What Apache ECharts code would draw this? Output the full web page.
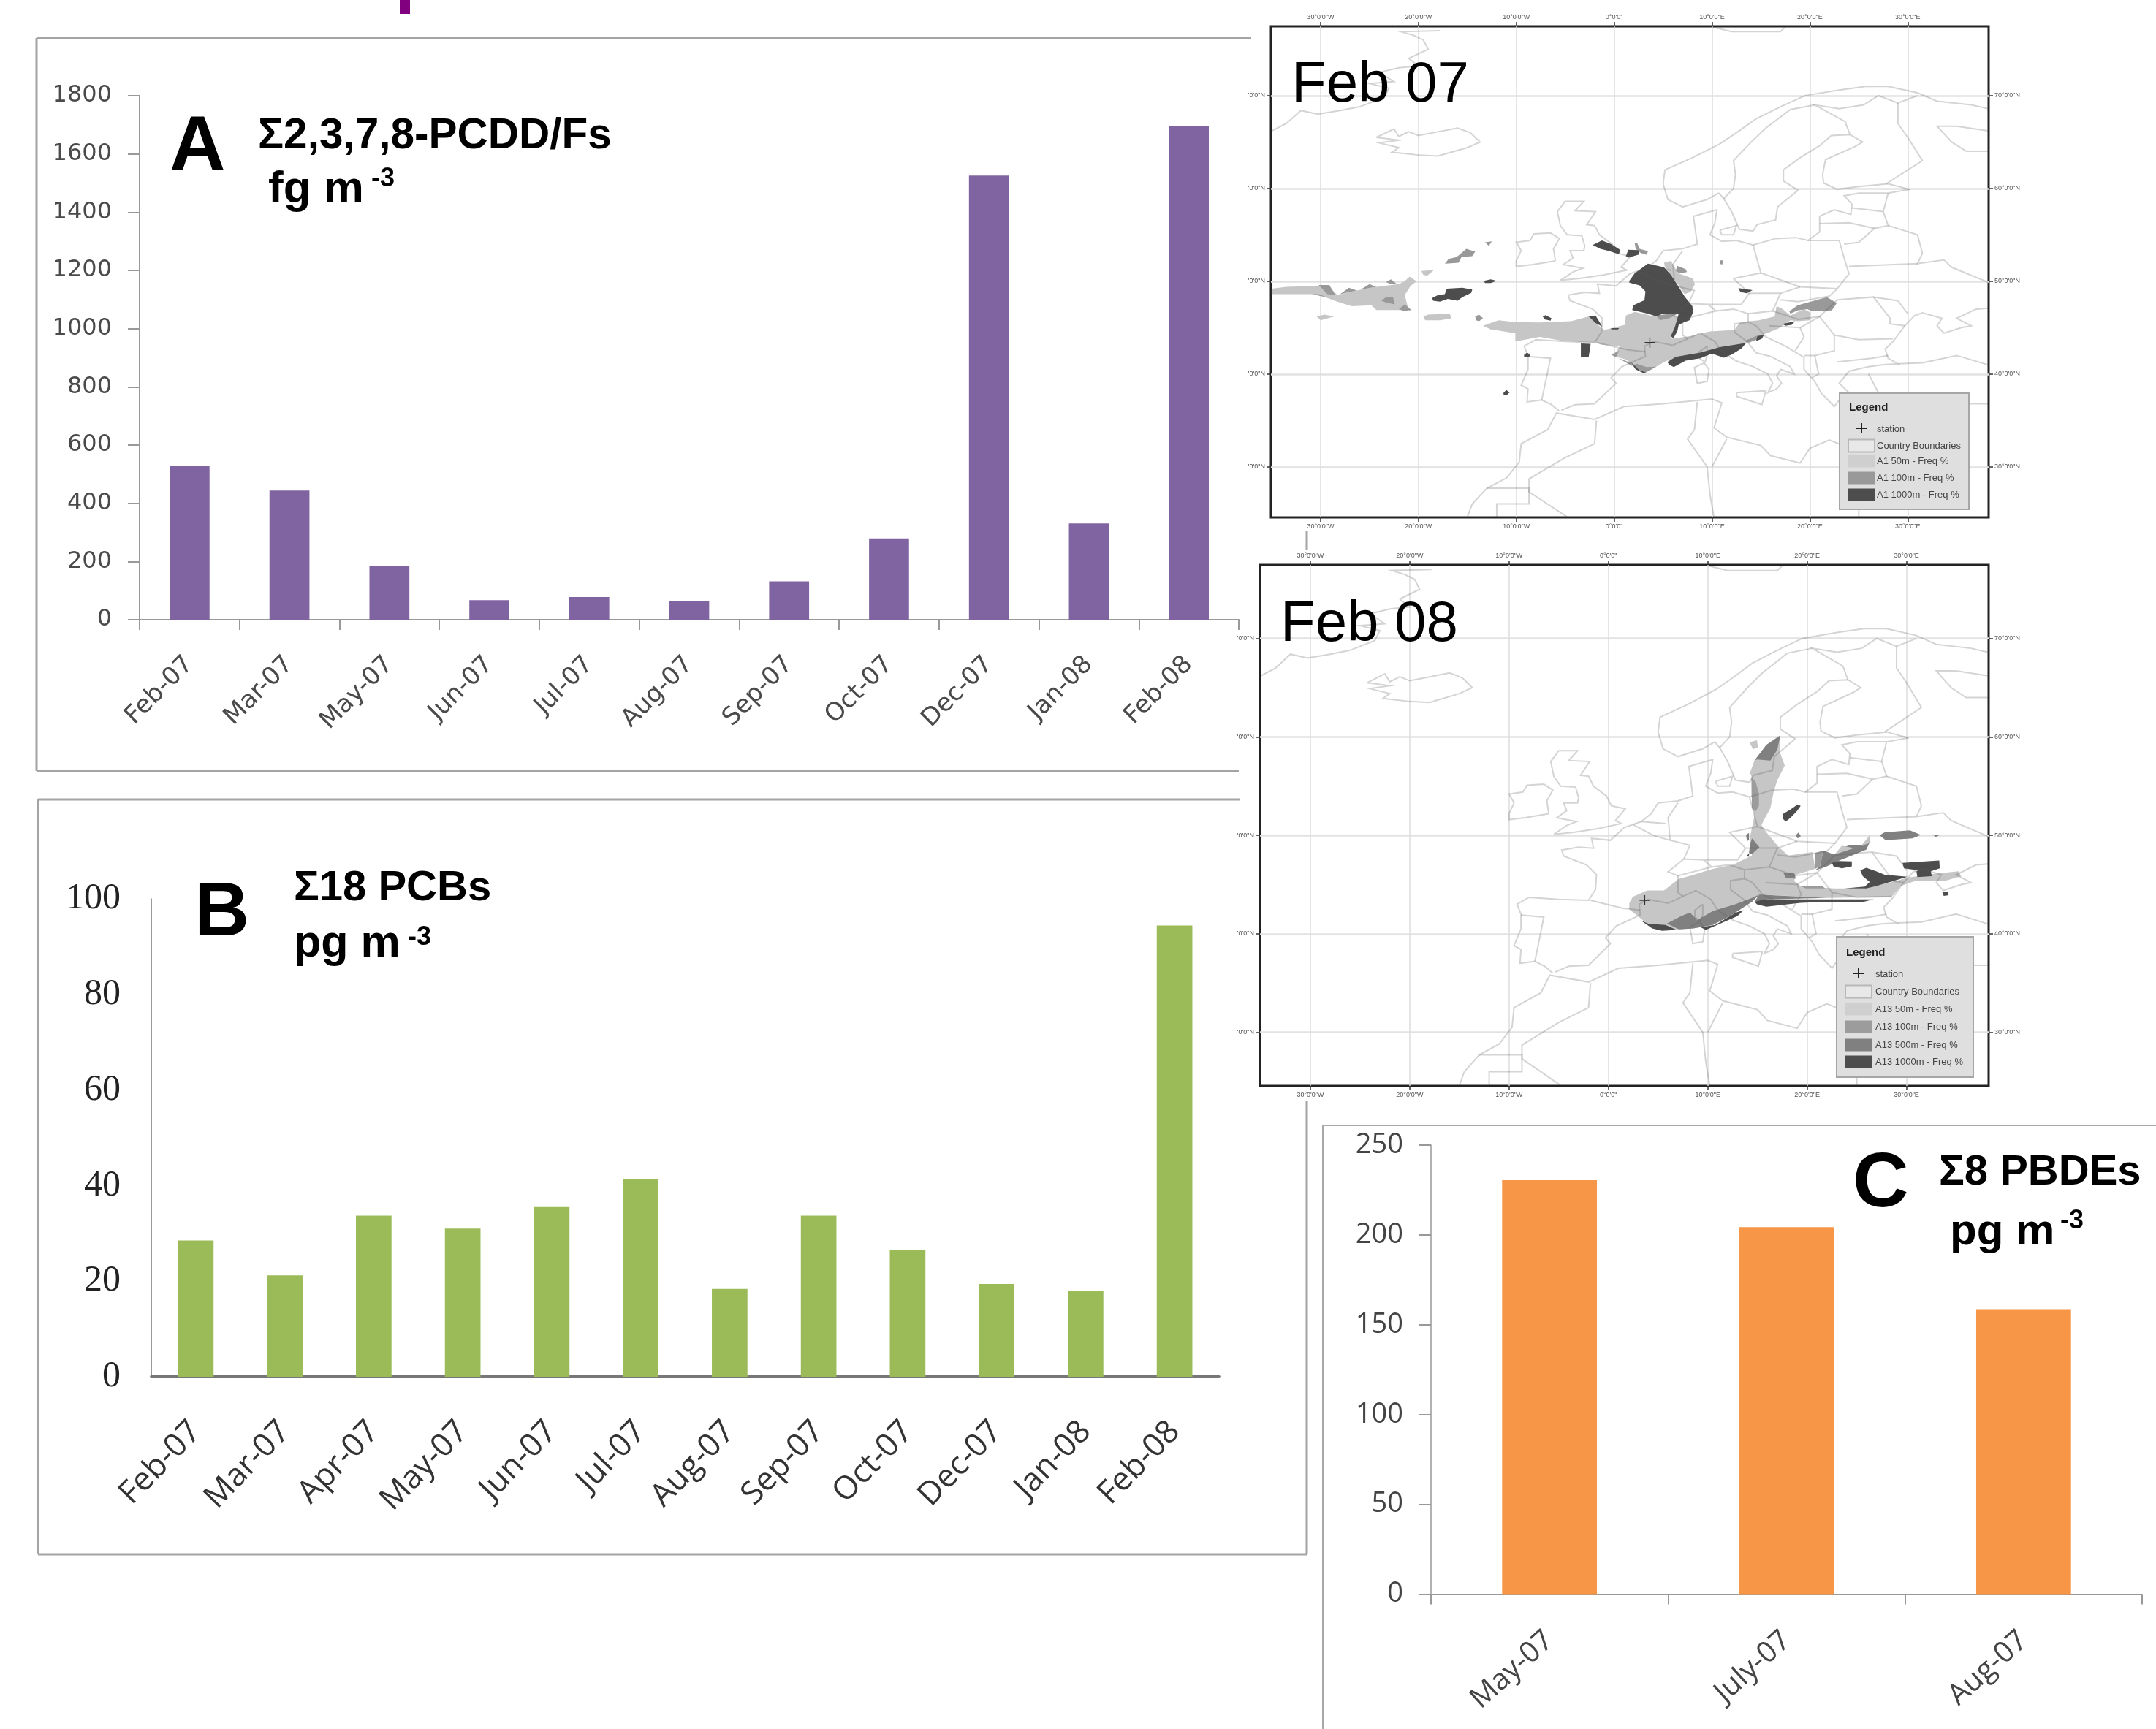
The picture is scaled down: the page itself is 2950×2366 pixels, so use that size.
<!DOCTYPE html>
<html>
<head>
<meta charset="utf-8">
<style>html,body{margin:0;padding:0;background:#fff}#chart{width:2950px;height:2366px}</style>
<script src="https://cdn.jsdelivr.net/npm/echarts@6/dist/echarts.min.js"></script>
</head>
<body>
<div id="chart"></div>
<script>
// panel A
const catsA = ['Feb-07','Mar-07','May-07','Jun-07','Jul-07','Aug-07','Sep-07','Oct-07','Dec-07','Jan-08','Feb-08'];
const valuesA = [530, 444, 183, 67, 78, 64, 132, 279, 1526, 331, 1696];
// panel B
const catsB = ['Feb-07','Mar-07','Apr-07','May-07','Jun-07','Jul-07','Aug-07','Sep-07','Oct-07','Dec-07','Jan-08','Feb-08'];
const valuesB = [28.5, 21.2, 33.7, 31, 35.5, 41.3, 18.4, 33.7, 26.6, 19.4, 17.9, 94.4];
// panel C
const catsC = ['May-07','July-07','Aug-07'];
const valuesC = [230.5, 204.3, 158.7];

// map ticks
const lonTicks = [-30,-20,-10,0,10,20,30];
const latTicks = [30,40,50,60,70];

// country and coast outlines, [lon, lat]
const outlines = [
  [[-24.3,65.5],[-22.5,66.4],[-22,65.6],[-21,66.1],[-20,65.7],[-18,66.1],[-16,66.5],[-14.7,66],[-13.7,65],[-15,64.4],[-18,63.5],[-20,63.6],[-22.7,63.9],[-22,64.4],[-24,64.9],[-22,65.2],[-24.3,65.5]],
  [[-35,66.2],[-33.5,67],[-32,68.4],[-30.3,68],[-28,68.4],[-26,68.8],[-23.5,69.8],[-23,70.8],[-25,71.3],[-22.5,71.5],[-24,72.5],[-22,73],[-20,73.2],[-21,74],[-20,74.5],[-19,75],[-19.5,76],[-20.5,76.5],[-21.8,76.9],[-17.8,77]],
  [[10,77.4],[12,76.9],[17,76.9],[17.5,77.4]],
  [[-5.6,36],[-6.4,36.7],[-7.4,37.2],[-8.9,37],[-8.8,38.4],[-9.5,38.8],[-8.8,40.5],[-8.8,42],[-9.2,43],[-8,43.7],[-5,43.5],[-2,43.4],[-1.3,44.5],[-1.2,46],[-2.2,47],[-4.5,47.9],[-4.7,48.5],[-3,48.8],[-1.5,48.7],[-1.7,49.7],[0.2,49.5],[1.6,50.8],[3.3,51.4],[4.3,52.2],[5,53.3],[7,53.5],[8.5,54],[8.3,55.5],[8.1,57],[10.5,57.7],[10.3,56.3],[9.8,55],[11,54.3],[12.5,54.4],[14.2,53.9],[16.5,54.6],[18.6,54.7],[19.8,54.4],[21,55.3],[21,57],[22.5,57.7],[24.2,57.2],[24.3,58.3],[23.5,59.2],[25,59.5],[28,59.5],[30.2,59.9]],
  [[-5.4,36.1],[-4,36.7],[-2,36.8],[-0.5,38.3],[0.2,39],[-0.3,39.6],[0.8,40.8],[3.2,41.9],[3.1,43],[4,43.5],[6,43.1],[7.5,43.8],[8.8,44.4],[10.3,43.5],[11,42.4],[12.5,41.4],[14.2,40.8],[15.7,40],[16.2,39],[15.7,38],[16.6,38.4],[17.1,39],[16.6,39.8],[17,40.5],[18.4,40],[18,40.8],[16,41.9],[14.5,42.3],[13.6,43.5],[12.3,44.5],[12.3,45.4],[13.7,45.6],[14.5,45.2],[15.5,44],[17.5,43],[19.4,41.8],[19.4,40.5],[20.5,39.2],[21.2,37.9],[22.5,36.5],[23.2,37.5],[24,38],[23,39],[24,40.3],[26,40.8],[27.5,41],[29,41.1],[28,41.7],[27.7,42.7],[28.5,43.5],[29.7,45.2],[30.7,46.3],[31.5,46.6],[33.5,46],[33,45.2],[33.7,44.4],[35.5,45],[36.5,45.2],[35,46],[37,47],[38.2,47.1]],
  [[29,41.1],[31.5,41.2],[35,42],[38.2,41]],
  [[26,40],[27,38],[27.5,37],[29,36.3],[31,36.8],[33,36.2],[36,36.5],[36,35],[34.5,31.5],[32,31.2],[29,31],[25,31.6],[22,32.9],[20,32],[19,30.4],[16,31.2],[15,32.3],[11.5,33.2],[10.2,34.2],[10.6,35.5],[11,36.9],[10,37.3],[5,36.8],[1,36.5],[-2,35.1],[-5.9,35.8],[-6.8,34],[-9.5,32.5],[-9.7,30.5],[-11,28.8],[-13,27.7],[-14.5,26],[-15,24.6]],
  [[-1.8,35],[-2,32.5],[-5,31],[-8.7,28.7],[-8.7,27.3],[-4.8,24.6]],
  [[-13,27.7],[-8.7,27.7],[-8.7,26],[-12,26],[-12,24.6]],
  [[8.5,37],[8.2,34],[7.5,33],[9.5,30],[9.8,27],[10.2,24.6]],
  [[11.5,33],[10,30]],
  [[25,31.6],[25,24.6]],
  [[-5.5,50.1],[-3.5,50.3],[-1,50.7],[1.3,51.2],[0.7,51.5],[1.7,52.7],[0.3,53],[-0.2,54],[-1.5,55],[-2,56],[-2.8,56.1],[-1.9,57.5],[-4,57.6],[-3.1,58.6],[-5,58.6],[-5.8,57.5],[-5.5,56],[-4.8,55],[-3.3,54.9],[-3,53.8],[-3.1,53.3],[-4.5,53.3],[-4.2,52.5],[-5.2,51.8],[-3.2,51.4],[-4.2,51],[-5.5,50.1]],
  [[-6,52.2],[-6.2,53.5],[-5.6,54.6],[-6.5,55.2],[-8.2,55.1],[-8.6,54.4],[-10,54.2],[-9.5,53.3],[-10,52.2],[-10,51.6],[-8.3,51.8],[-6,52.2]],
  [[9.5,43],[9.5,42],[9.3,41.3],[8.7,41.7],[8.7,42.4],[9.5,43]],
  [[9.2,41.2],[9.7,40.5],[9.5,39.2],[8.5,39],[8.2,40.7],[9.2,41.2]],
  [[12.5,38],[15.5,38.2],[15.1,36.7],[12.5,37.6],[12.5,38]],
  [[23.6,35.5],[26.3,35.2],[24.7,34.9],[23.6,35.5]],
  [[10.8,55.5],[12.5,56],[12.2,55],[11,55],[10.8,55.5]],
  [[10.7,59.5],[9.5,58.8],[7,58],[5.5,58.8],[5,60.5],[5.2,62],[8,63.3],[10.8,64.8],[12.5,66],[14.5,67.5],[17,68.8],[19.5,70],[23,70.6],[25.7,71],[28,71],[31,70.3],[33,69.4],[36.5,69],[38.2,68.6]],
  [[38.2,66.2],[35,66.7],[33,66.7],[34.5,65],[36,64],[38.2,64]],
  [[10.7,59.5],[11.2,58.9],[12,57.5],[12.8,55.6],[14.2,55.4],[14.6,56.1],[16.5,56.6],[16.7,58],[18.8,59.8],[17.3,60.8],[17.3,62],[19,63.3],[21,64.6],[22.2,65.7],[24.1,65.8],[25.4,65],[24.6,64.5],[21.6,63.1],[21.3,61.5],[21.4,60.6],[22.8,59.9],[25,60.2],[28,60.5],[30.2,59.9]],
  [[11.2,58.9],[12.2,60],[12.4,61.5],[12.2,63],[14,65],[15.5,66.5],[18,68.5],[20.5,69]],
  [[24.1,65.8],[23.6,67.2],[20.5,69],[23,68.6],[25.5,69],[27,70],[29,69.2],[31,70]],
  [[29,69.2],[29,67],[30,65.5],[31.5,63],[27.8,60.5]],
  [[24.3,57.9],[27.5,57.5]],
  [[21,56.2],[24,56.3],[26.6,55.7]],
  [[28,59.5],[27.5,57.5],[28,56],[26.6,55.7],[25,54.2],[23.5,54]],
  [[19.8,54.4],[23,54.4],[23.5,52.5],[24,50.8],[22.8,49.2],[19,49.4],[15,50.9],[14.7,52],[14.2,53.9]],
  [[15,50.9],[12.2,50.3],[13.8,48.7],[17,48.7],[19,49.4]],
  [[13.8,48.7],[13,47.5],[9.6,47.5],[7.6,47.6],[6,46.3],[7,45.9],[10.4,46.8],[9.6,47.5]],
  [[7.6,47.6],[8.2,49],[6.2,49.5],[4.5,50],[2.5,51.1]],
  [[7,53.3],[6,51.8],[6.1,50.8],[6.2,49.5]],
  [[3.3,51.4],[5.8,51.2]],
  [[7,45.9],[7,44.2],[7.5,43.8]],
  [[-1.8,43.4],[1.4,42.6],[3.2,42.4]],
  [[-8.8,41.9],[-6.5,41.7],[-6.9,39.7],[-7.4,37.2]],
  [[10.4,46.8],[12.2,47],[13.7,46.5],[13.7,45.6]],
  [[13.7,46.5],[16.2,46.8],[17,48.7]],
  [[17,48],[18.8,47.8],[22,48.4],[22.8,49.2]],
  [[16.2,46.8],[18.8,45.9],[21,46.2],[22.8,48],[26.5,48.3],[28.2,46],[28.2,45.4],[29.7,45.2]],
  [[15.8,45.2],[19,45],[19.4,44],[18.5,42.5]],
  [[19,45],[21,46.2]],
  [[21,46.2],[22.5,44.2],[22.5,42.5],[20.5,42],[19.4,42]],
  [[22.5,44.2],[25,43.7],[28.5,43.8]],
  [[22.8,41.3],[26.3,41.7],[28,42]],
  [[20.5,42],[20.9,40],[20.2,39.6]],
  [[24,51.6],[31,51.9]],
  [[33.7,52.3],[34.5,51.5],[38.2,49.9]],
  [[28,56],[31,55],[31.5,53],[31,51.9],[33.7,52.3]],
  [[26.5,48.3],[29,47.9],[30,46.5]],
  [[36.2,36.8],[38.2,36.8]]
];

// Feb 07 plumes
const plume07Light = [
  [[-35,49.2],[-33.5,49.4],[-30.2,49.5],[-29,49.3],[-28.3,48.5],[-26.3,49],[-24.3,49.4],[-22,49.7],[-21.4,50],[-20.9,50.5],[-20.2,50],[-20.8,49.5],[-21.4,48.5],[-21,46.9],[-24.3,46.9],[-24.8,47.4],[-26.8,47.3],[-28.3,47.8],[-29.3,48.2],[-30.7,48.6],[-33.5,48.6],[-35,48.6]],
  [[-30.4,46.2],[-29.6,46.4],[-28.6,46.2],[-30,45.8]],
  [[-19.7,51.1],[-18.4,51.2],[-19.1,50.6],[-19.5,50.7]],
  [[-19.5,46.2],[-19,46.4],[-16.8,46.5],[-16.6,46],[-17.8,45.8],[-19.3,45.8]],
  [[-13.4,45.2],[-11.8,45.8],[-10.1,45.6],[-7.6,45.55],[-4.4,45.7],[-2.6,46.2],[-1.9,45.5],[-1,44.75],[-0.4,44.9],[1.1,45.3],[1.2,46.3],[2.1,46.7],[4.1,46.2],[5.8,46.3],[6.6,46.1],[6.6,45.4],[5.9,44.1],[5.9,43.8],[7.8,44.1],[9.8,44.6],[12.3,44.75],[12.8,45.5],[13.8,45.7],[14.8,45.8],[16.4,46.2],[16.6,47.3],[17.1,47.1],[18,46.3],[19.4,47],[20.1,46.6],[20,45.8],[18.8,45.7],[18,45.8],[16.8,44.9],[15.5,44.35],[14.8,44.1],[13.5,43.3],[10.8,42.8],[8.8,42.2],[5.3,41.4],[4.3,40.8],[3.3,40.25],[2.3,40.5],[1.3,41.55],[-0.1,41.95],[0.35,42.6],[0.6,43],[-1.3,43.15],[-1.9,43.4],[-5.1,43.55],[-7.6,44],[-10.1,43.5],[-10.1,44.4],[-12.6,44.8]],
  [[5.1,52],[5.8,52.2],[6.55,50.85],[8.05,50.3],[8.25,49.65],[7.8,48.85],[7.2,48.6],[6.55,49.65],[5.8,50.7],[5.2,51.5]]
];
const plume07Mid = [
  [[-30.2,49.6],[-29.1,49.6],[-28.5,48.5],[-29.3,48.6]],
  [[-30.9,48.6],[-29.4,48.3],[-30.2,48.6]],
  [[-28,48.6],[-27.1,49.3],[-26.3,49]],
  [[-25.9,49.1],[-25,49.7],[-24.3,49.4]],
  [[-23.3,49.9],[-22.8,50.2],[-22.2,49.7],[-22.8,49.7]],
  [[-23.8,47.9],[-23.3,48.3],[-22.6,48.3],[-22.4,47.5],[-23.3,47.7]],
  [[-22,47],[-21.4,47.5],[-20.7,46.9],[-21.5,46.8]],
  [[-17.3,51.9],[-16.9,52.4],[-16.1,52.6],[-15.1,53.5],[-14.2,53.2],[-14.5,52.7],[-15.6,52.6],[-15.9,52],[-17.2,51.9]],
  [[-13.2,54.2],[-12.5,54.3],[-12.8,53.8]],
  [[-14.2,46.2],[-13.8,46.4],[-13.4,46],[-13.8,45.7],[-14.1,45.8]],
  [[4.3,46.3],[5.8,46.5],[6.4,46.4],[5.6,46],[4.7,45.8]],
  [[-0.3,42.1],[0.5,42.5],[0.2,41.85],[1.8,40.9],[2.3,41.1],[3.3,40.75],[4.3,40.8],[3.3,40.2],[2.6,40.4],[1.7,41.2],[0.1,41.85]],
  [[13.3,43.55],[14.5,44.1],[15.3,44.2],[14.8,43.8],[13.8,43.4]],
  [[6.55,47.15],[7.05,47.8],[7.3,47.25],[7.05,46.75],[6.7,46.75]],
  [[6.45,51.65],[7.3,51.3],[7.45,51],[6.7,50.85],[6.3,51.1]],
  [[2.1,54.15],[2.35,54.15],[2.6,53.5],[3.45,53.25],[3.35,52.85],[2.7,53.05],[2.2,53.5]],
  [[10.8,52.25],[11.15,52.25],[11.05,51.8],[10.85,51.85]],
  [[17.9,46.75],[18.75,47.4],[21.75,48.3],[22.75,47.65],[22.25,46.85],[20.25,46.75],[19.75,47],[18.75,46.85],[18,46.5]]
];
const plume07Dark = [
  [[-13.3,50.05],[-12.6,50.2],[-12,50.05],[-12.6,49.8],[-13.2,49.8]],
  [[-18.6,48.2],[-18,48.5],[-17.3,48.6],[-17.1,49.2],[-15.5,49.3],[-14.5,49.1],[-14.6,48.75],[-15.5,48.3],[-16,47.9],[-17,48.1],[-17.8,47.8],[-18.5,47.9]],
  [[-7.3,46.2],[-7,46.35],[-6.4,46],[-6.5,45.75],[-7.1,45.9]],
  [[-9.2,42.1],[-8.9,42.3],[-8.55,42.1],[-8.7,41.8],[-9.2,41.85]],
  [[-11.3,38],[-11,38.3],[-10.7,38],[-11,37.7],[-11.3,37.75]],
  [[-3.4,43.3],[-2.4,43.25],[-2.6,41.85],[-3.4,41.85],[-3.4,42.4]],
  [[-2.6,46.2],[-1.9,46.3],[-1.2,45.1],[-1.9,45.5]],
  [[-0.3,44.95],[0.5,44.95],[0.4,44.8],[-0.3,44.8]],
  [[1.7,41.3],[2.6,40.4],[3.3,40.2],[3,40.1],[2.2,40.5]],
  [[5.45,41.3],[6.3,41.85],[8.8,42.3],[10.8,42.9],[13.5,43.35],[13,42.75],[12,42.1],[11.2,41.75],[10,42.2],[8.8,41.7],[7.3,41.45],[6.1,40.75],[5.6,41]],
  [[14.65,44.1],[15.3,44.2],[15.1,43.8],[14.5,43.55]],
  [[1.55,50.05],[2.1,50.85],[3.45,51.9],[5.1,51.5],[5.8,50.7],[6.6,49.4],[7.2,48.35],[8,47.3],[8.05,46.6],[7.7,45.8],[7.1,45.55],[6.6,45.3],[6.45,44.6],[6.05,43.85],[5.8,44.1],[6.2,45.05],[6.45,45.95],[6.6,46.5],[5.85,46.5],[4.85,46.45],[4.35,46.2],[3.3,46.55],[1.85,46.9],[1.95,47.4],[3.1,47.95],[3.2,48.9],[2.6,49.55],[1.55,49.85]],
  [[-2.2,53.9],[-1.25,54.4],[-0.3,54],[0.6,53.4],[0.5,52.9],[-0.5,53.25],[-1.4,53.5]],
  [[1.2,52.7],[1.45,53.4],[2.45,53.35],[2.6,52.9],[1.45,52.55]],
  [[12.7,49.25],[14.15,49.05],[13.55,48.7],[12.9,48.85]],
  [[17.2,45.4],[18.5,45.7],[18.15,45.3],[17.5,45.2]]
];

// Feb 08 plumes
const plume08Light = [
  [[2.1,43.1],[2.45,43.75],[3.9,44.4],[5.6,44.4],[7.1,45.6],[8.1,45.85],[10.5,46.6],[12.5,47],[14.45,47.95],[14.2,49.55],[14.5,51.05],[14.7,52],[14.4,54],[14.4,56],[14.25,56.35],[14.7,57.6],[15.9,59.2],[17.3,60.15],[17.25,58.45],[17.75,57.1],[17,55.6],[16.65,54.5],[16.3,52.75],[15.65,51.55],[15.4,51.05],[15.9,50.3],[17.15,48.8],[18.1,47.95],[20.55,48.3],[20.8,46.6],[18.85,46],[18.7,45.35],[19.35,44.85],[22.75,44.6],[25.7,44.6],[28.9,45.35],[30.1,45.7],[32.8,46.1],[35.25,46.35],[35.5,45.85],[33.8,45.35],[30.85,45.35],[29.4,44.85],[28.5,43.75],[22,43.65],[15.2,44],[14.45,43.25],[12.25,41.8],[10.5,40.9],[8.55,40.55],[7.1,40.45],[5.4,40.4],[4.05,40.9],[2.1,42.5]],
  [[14.2,59.45],[14.95,59.65],[15.05,58.95],[14.55,58.75]]
];
const plume08Mid100 = [
  [[14.4,55.85],[14.8,55.5],[15.15,54.25],[15.15,53],[14.8,52.4],[14.45,52.75]],
  [[20.8,48.2],[21.65,48.45],[21.3,46.85],[20.8,46.6]],
  [[19.35,44.85],[21.55,44.85],[21.8,44.6],[19.85,44.6]]
];
const plume08Mid500 = [
  [[14.7,57.6],[15.9,59.2],[17.3,60.15],[17,58.7],[16.3,57.6],[14.95,57.7]],
  [[14.45,49.7],[15.2,48.8],[14.45,48.1],[14.15,48.2],[14.25,49.05]],
  [[13.85,50.05],[14.15,50.25],[14.15,49.55],[13.95,49.4]],
  [[18.85,50],[19.15,50.3],[19.35,49.9],[19.05,49.7]],
  [[5.9,41.05],[7.35,41.8],[8.2,42.15],[8.95,41.4],[10.5,42.3],[12.75,43],[14.45,43.65],[15.2,44],[14.45,43.25],[12.25,41.8],[10.5,40.9],[8.55,40.55],[7.1,40.45]],
  [[15.2,44],[16.7,43.9],[22,43.65],[15.9,43.5],[14.7,43.25]],
  [[21.65,48.45],[22.75,48.05],[23.6,48.8],[24.5,49.05],[25.7,48.95],[26.3,50],[26.3,49.3],[25.95,48.55],[24.5,47.95],[23.25,47.45],[22,46.85],[20.8,46.45],[21.3,46.85]],
  [[27.3,50],[27.8,50.3],[30.35,50.5],[31.45,50.05],[30.6,49.7],[27.9,49.5]],
  [[32.6,50.1],[33.3,50],[32.95,49.85]],
  [[17.6,46.2],[18.7,46.2],[18.85,45.6],[17.85,45.7]]
];
const plume08Strip = [
  [[22.75,48.05],[25.45,48.95],[26.3,50],[26.25,49.2],[24.7,48.7],[23.5,48.95]]
];
const plume08Dark = [
  [[13.95,47.95],[14.2,48.2],[14.1,47.8]],
  [[3.2,41.4],[4.05,41],[5.75,40.9],[6.85,40.4],[5.4,40.3],[4.4,40.55]],
  [[9.3,40.65],[10.75,40.9],[12.85,42.15],[13.6,42.4],[13,41.8],[10.75,40.8],[9.8,40.4]],
  [[14.7,43.25],[15.65,43.5],[22,43.5],[26.7,43.5],[25.7,43.25],[22,43.25],[19.35,43.15],[15.9,42.75],[14.95,43]],
  [[22.5,47.2],[23.15,47.4],[24.5,47.35],[24.5,46.85],[23.5,46.65],[22.65,46.85]],
  [[29.6,47.2],[33.3,47.45],[33.35,46.65],[32.45,46.35],[32.55,45.85],[31.1,45.75],[31,46.35],[31.2,46.45],[29.75,46.65]],
  [[25.35,46.45],[25.95,46.7],[26.95,46.35],[27.8,46],[30.1,45.8],[28.65,45.35],[26.95,44.85],[25.95,44.6],[23.75,44.6],[25.8,44.8],[26.3,45.25],[25.6,45.85]],
  [[17.6,52.2],[18.35,52.65],[19.05,53.15],[19.35,53],[19,52.5],[18.35,51.8],[17.85,51.4],[17.6,51.65]],
  [[33.6,44.25],[34.15,44.25],[34.15,43.9],[33.75,43.85]]
];
const station = [3.65, 43.4];

const legend07 = ['Country Boundaries','A1 50m - Freq %','A1 100m - Freq %','A1 1000m - Freq %'];
const legend08 = ['Country Boundaries','A13 50m - Freq %','A13 100m - Freq %','A13 500m - Freq %','A13 1000m - Freq %'];

const sans = '"Liberation Sans"';

function barGridAxes (cats, yMax, yStep, gridIndex, o) {
    return {
        x: {
            type: 'category',
            gridIndex: gridIndex,
            data: cats,
            axisLine: {lineStyle: {color: o.line, width: o.baseWidth}},
            axisTick: {show: o.xTick, length: 14, alignWithLabel: false, lineStyle: {color: o.line, width: 2}},
            axisLabel: {interval: 0, rotate: o.rotate, margin: o.xMargin, color: o.text, fontFamily: o.font, fontSize: o.xSize}
        },
        y: {
            type: 'value',
            gridIndex: gridIndex,
            min: 0,
            max: yMax,
            interval: yStep,
            splitLine: {show: false},
            axisLine: {show: true, lineStyle: {color: o.line, width: o.yLineWidth}},
            axisTick: {show: o.yTick, length: 16, lineStyle: {color: o.line, width: 2}},
            axisLabel: {margin: o.yMargin, formatter: v => String(v), color: o.yText || o.text, fontFamily: o.yFont || o.font, fontSize: o.ySize}
        }
    };
}

function lonLabel (v) {
    if (v === 0) return '0\u00b00\'0"';
    return Math.abs(v) + '\u00b00\'0"' + (v < 0 ? 'W' : 'E');
}

function mapAxes (gridIndex) {
    const xBase = {
        type: 'value', gridIndex: gridIndex, min: -35.07, max: 38.27,
        splitLine: {show: true, lineStyle: {color: '#dcdcdc', width: 1.5}},
        axisLine: {show: false, onZero: false},
        axisTick: {show: true, length: 6, customValues: lonTicks, lineStyle: {color: '#333', width: 1.5}},
        axisLabel: {customValues: lonTicks, formatter: lonLabel, margin: 8, fontSize: 9, fontFamily: sans, color: '#555'}
    };
    const yBase = {
        type: 'value', gridIndex: gridIndex, min: 24.55, max: 77.47,
        splitLine: {show: true, lineStyle: {color: '#e2e2e2', width: 2.5}},
        axisLine: {show: false, onZero: false},
        axisTick: {show: true, length: 6, customValues: latTicks, lineStyle: {color: '#333', width: 1.5}},
        axisLabel: {customValues: latTicks, margin: 8, fontSize: 9, fontFamily: sans, color: '#555'}
    };
    return {
        x: [Object.assign({}, xBase, {position: 'bottom'}), Object.assign({}, xBase, {position: 'top', splitLine: {show: false}})],
        y: [
            Object.assign({}, yBase, {position: 'left', axisLabel: Object.assign({}, yBase.axisLabel, {formatter: v => '\'0\'0"N'})}),
            Object.assign({}, yBase, {position: 'right', splitLine: {show: false}, axisLabel: Object.assign({}, yBase.axisLabel, {formatter: v => v + '\u00b00\'0"N'})})
        ]
    };
}

function polySeries (xi, yi, polys, fill) {
    return {
        type: 'custom', coordinateSystem: 'cartesian2d', xAxisIndex: xi, yAxisIndex: yi, silent: true, clip: true,
        data: polys.map((p, i) => [p[0][0], p[0][1], i]),
        encode: {x: 0, y: 1},
        renderItem: (params, api) => ({
            type: 'polygon',
            shape: {points: polys[params.dataIndex].map(c => api.coord(c))},
            style: {fill: fill}
        })
    };
}

function lineSeries (xi, yi, lines) {
    return {
        type: 'custom', coordinateSystem: 'cartesian2d', xAxisIndex: xi, yAxisIndex: yi, silent: true, clip: true,
        data: lines.map((p, i) => [p[0][0], p[0][1], i]),
        encode: {x: 0, y: 1},
        renderItem: (params, api) => ({
            type: 'polyline',
            shape: {points: lines[params.dataIndex].map(c => api.coord(c))},
            style: {fill: 'none', stroke: 'rgba(90,90,90,0.26)', lineWidth: 2}
        })
    };
}

function stationSeries (xi, yi) {
    return {
        type: 'scatter', xAxisIndex: xi, yAxisIndex: yi, silent: true, z: 5,
        data: [station],
        symbol: 'path://M-1 -10H1V-1H10V1H1V10H-1V1H-10V-1H-1Z',
        symbolSize: 14,
        itemStyle: {color: '#111'}
    };
}

function text (x, y, str, size, o) {
    o = o || {};
    return {
        type: 'text', z: 20,
        style: {
            x: x, y: y, text: str,
            font: (o.weight || 'normal') + ' ' + size + 'px ' + (o.font || sans),
            fill: o.fill || '#000',
            verticalAlign: 'middle'
        }
    };
}

function hline (x1, x2, y, color, w, z) {
    return {type: 'line', z: z || 10, shape: {x1: x1, y1: y, x2: x2, y2: y}, style: {stroke: color || '#a4a4a4', lineWidth: w || 3}};
}
function vline (x, y1, y2, color, w, z) {
    return {type: 'line', z: z || 10, shape: {x1: x, y1: y1, x2: x, y2: y2}, style: {stroke: color || '#a4a4a4', lineWidth: w || 3}};
}
function rect (x, y, w, h, fill, stroke) {
    return {type: 'rect', z: 15, shape: {x: x, y: y, width: w, height: h}, style: {fill: fill, stroke: stroke || null, lineWidth: stroke ? 2 : 0}};
}

function mapLegend (x, y, w, h, titleX, titleY, rowX, swX, stationY, rows, rowYs, fills) {
    const out = [rect(x, y, w, h, '#dfdfdf', '#a6a6a6')];
    out.push(text(titleX, titleY, 'Legend', 15, {weight: 'bold', fill: '#222'}));
    out.push(hline(swX + 11, swX + 25, stationY, '#222', 2, 16));
    out.push(vline(swX + 18, stationY - 7, stationY + 7, '#222', 2, 16));
    out.push(text(rowX, stationY + 1, 'station', 13, {fill: '#444'}));
    rows.forEach((r, i) => {
        out.push(rect(swX, rowYs[i] - 8.5, 36, 17, fills[i], i === 0 ? '#b8b8b8' : null));
        out.push(text(rowX, rowYs[i], r, 13, {fill: '#444'}));
    });
    return out;
}

const axA = barGridAxes(catsA, 1800, 200, 0, {line: '#999', baseWidth: 2, xTick: true, yTick: true, rotate: 45, xMargin: 56, text: '#4a4a4a', font: '"DejaVu Sans"', xSize: 34, ySize: 32, yLineWidth: 2, yMargin: 38});
const axB = barGridAxes(catsB, 100, 20, 1, {line: '#777', baseWidth: 4, xTick: false, yTick: false, rotate: 46, xMargin: 68, text: '#333', font: '"Open Sans"', xSize: 44, ySize: 50, yFont: '"Liberation Serif"', yText: '#222', yLineWidth: 1.5, yMargin: 42});
const axC = barGridAxes(catsC, 250, 50, 2, {line: '#999', baseWidth: 2, xTick: true, yTick: true, rotate: 42, xMargin: 58, text: '#444', font: '"Open Sans"', xSize: 40, ySize: 38, yLineWidth: 1.5, yMargin: 38});
const m1 = mapAxes(3);
const m2 = mapAxes(4);

const option = {
    animation: false,
    backgroundColor: '#fff',
    grid: [
        {left: 191, top: 131, width: 1504, height: 717},
        {left: 207, top: 1230, width: 1461, height: 654},
        {left: 1958, top: 1567, width: 973, height: 614.5},
        {left: 1739, top: 36, width: 982, height: 672, show: true, backgroundColor: '#fff', borderColor: '#222', borderWidth: 3},
        {left: 1724, top: 773, width: 997, height: 713, show: true, backgroundColor: '#fff', borderColor: '#222', borderWidth: 3}
    ],
    xAxis: [axA.x, axB.x, axC.x, m1.x[0], m1.x[1], m2.x[0], m2.x[1]],
    yAxis: [axA.y, axB.y, axC.y, m1.y[0], m1.y[1], m2.y[0], m2.y[1]],
    series: [
        {type: 'bar', xAxisIndex: 0, yAxisIndex: 0, data: valuesA, barWidth: '40%', itemStyle: {color: '#8064A2'}},
        {type: 'bar', xAxisIndex: 1, yAxisIndex: 1, data: valuesB, barWidth: '40%', itemStyle: {color: '#9BBB59'}},
        {type: 'bar', xAxisIndex: 2, yAxisIndex: 2, data: valuesC, barWidth: '40%', itemStyle: {color: '#F79646'}},

        polySeries(3, 3, plume07Light, '#c6c6c6'),
        polySeries(3, 3, plume07Mid, '#999999'),
        polySeries(3, 3, plume07Dark, '#4d4d4d'),
        lineSeries(3, 3, outlines),
        stationSeries(3, 3),

        polySeries(5, 5, plume08Light, '#c6c6c6'),
        polySeries(5, 5, plume08Mid100, '#9c9c9c'),
        polySeries(5, 5, plume08Mid500, '#808080'),
        polySeries(5, 5, plume08Strip, '#c6c6c6'),
        polySeries(5, 5, plume08Dark, '#4d4d4d'),
        lineSeries(5, 5, outlines),
        stationSeries(5, 5)
    ],
    graphic: [
        rect(547, 0, 14, 19, '#800080'),

        // panel frames, cut off where the maps sit over them
        hline(50, 1712, 52), vline(50, 52, 1055), hline(50, 1695, 1055),
        hline(52, 1696, 1094), vline(52, 1094, 2127), hline(52, 1788, 2127),
        vline(1788, 1507, 2127), vline(1788, 727, 752),
        hline(1810, 2950, 1540, '#a8a8a8', 2), vline(1810, 1540, 2366, '#a8a8a8', 2),

        text(232, 204, 'A', 106, {weight: 'bold'}),
        text(353, 187, '\u03a32,3,7,8-PCDD/Fs', 58.5, {weight: 'bold'}),
        text(367, 260, 'fg m', 62, {weight: 'bold'}),
        text(508, 245, '-3', 36, {weight: 'bold'}),

        text(266, 1251, 'B', 104, {weight: 'bold'}),
        text(402, 1216, '\u03a318 PCBs', 58, {weight: 'bold'}),
        text(402, 1292, 'pg m', 61, {weight: 'bold'}),
        text(558, 1283, '-3', 36, {weight: 'bold'}),

        text(2535, 1622, 'C', 106, {weight: 'bold'}),
        text(2653, 1605, '\u03a38 PBDEs', 58, {weight: 'bold'}),
        text(2668, 1686, 'pg m', 60, {weight: 'bold'}),
        text(2819, 1671, '-3', 36, {weight: 'bold'}),

        text(1767, 117, 'Feb 07', 78),
        text(1752, 855, 'Feb 08', 78)
    ].concat(
        mapLegend(2517, 538, 177, 159, 2530, 558, 2568, 2529, 586, legend07, [610, 631, 654, 677], ['#e8e8e8', '#cfcfcf', '#999999', '#4d4d4d']),
        mapLegend(2513, 1282, 187, 192, 2526, 1304, 2566, 2525, 1332, legend08, [1357, 1381, 1405, 1430, 1453], ['#e8e8e8', '#cfcfcf', '#9c9c9c', '#808080', '#4d4d4d'])
    )
};

const chart = echarts.init(document.getElementById('chart'));
chart.setOption(option);
</script>
</body>
</html>
